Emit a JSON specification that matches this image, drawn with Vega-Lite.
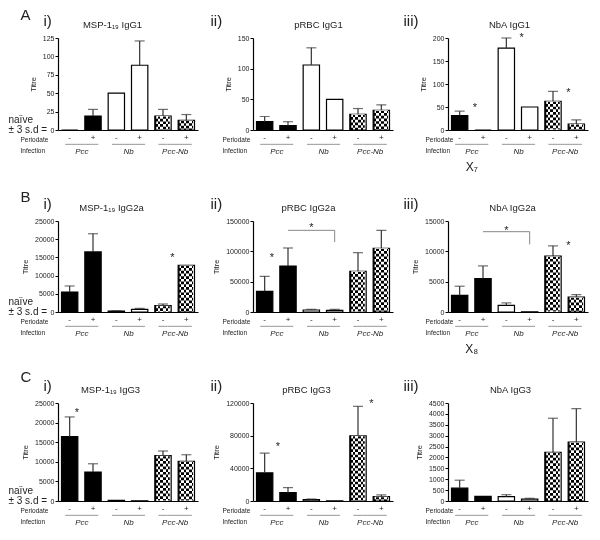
{
"$schema": "https://vega.github.io/schema/vega-lite/v6.json",
"background": "white",
"padding": {"left": 8, "top": 7, "right": 2, "bottom": 2},
"config": {"font": "Liberation Sans", "view": {"stroke": null}, "axis": {"grid": false, "domainColor": "#000", "tickColor": "#000", "labelColor": "#222", "titleColor": "#222", "labelFont": "Liberation Sans", "titleFont": "Liberation Sans"}},
"datasets": {
"bars": [
{"panel":"Ai","group":"Pcc","bar":"Pcc|-","value":0,"err":null},
{"panel":"Ai","group":"Pcc","bar":"Pcc|+","value":19,"err":28},
{"panel":"Ai","group":"Nb","bar":"Nb|-","value":50,"err":null},
{"panel":"Ai","group":"Nb","bar":"Nb|+","value":88,"err":121},
{"panel":"Ai","group":"Pcc-Nb","bar":"Pcc-Nb|-","value":19,"err":28},
{"panel":"Ai","group":"Pcc-Nb","bar":"Pcc-Nb|+","value":13,"err":21},
{"panel":"Aii","group":"Pcc","bar":"Pcc|-","value":13.5,"err":22},
{"panel":"Aii","group":"Pcc","bar":"Pcc|+","value":7,"err":13.5},
{"panel":"Aii","group":"Nb","bar":"Nb|-","value":106,"err":134},
{"panel":"Aii","group":"Nb","bar":"Nb|+","value":50,"err":null},
{"panel":"Aii","group":"Pcc-Nb","bar":"Pcc-Nb|-","value":25.5,"err":35},
{"panel":"Aii","group":"Pcc-Nb","bar":"Pcc-Nb|+","value":32,"err":41},
{"panel":"Aiii","group":"Pcc","bar":"Pcc|-","value":31.5,"err":41},
{"panel":"Aiii","group":"Pcc","bar":"Pcc|+","value":0,"err":null},
{"panel":"Aiii","group":"Nb","bar":"Nb|-","value":178,"err":200},
{"panel":"Aiii","group":"Nb","bar":"Nb|+","value":50,"err":null},
{"panel":"Aiii","group":"Pcc-Nb","bar":"Pcc-Nb|-","value":62.5,"err":84},
{"panel":"Aiii","group":"Pcc-Nb","bar":"Pcc-Nb|+","value":13,"err":22},
{"panel":"Bi","group":"Pcc","bar":"Pcc|-","value":5500,"err":7150},
{"panel":"Bi","group":"Pcc","bar":"Pcc|+","value":16500,"err":21500},
{"panel":"Bi","group":"Nb","bar":"Nb|-","value":270,"err":350},
{"panel":"Bi","group":"Nb","bar":"Nb|+","value":730,"err":1000},
{"panel":"Bi","group":"Pcc-Nb","bar":"Pcc-Nb|-","value":1750,"err":2200},
{"panel":"Bi","group":"Pcc-Nb","bar":"Pcc-Nb|+","value":12800,"err":null},
{"panel":"Bii","group":"Pcc","bar":"Pcc|-","value":34000,"err":58800},
{"panel":"Bii","group":"Pcc","bar":"Pcc|+","value":75800,"err":105500},
{"panel":"Bii","group":"Nb","bar":"Nb|-","value":3300,"err":4400},
{"panel":"Bii","group":"Nb","bar":"Nb|+","value":2700,"err":4400},
{"panel":"Bii","group":"Pcc-Nb","bar":"Pcc-Nb|-","value":67000,"err":97800},
{"panel":"Bii","group":"Pcc-Nb","bar":"Pcc-Nb|+","value":105000,"err":134600},
{"panel":"Biii","group":"Pcc","bar":"Pcc|-","value":2750,"err":4250},
{"panel":"Biii","group":"Pcc","bar":"Pcc|+","value":5500,"err":7600},
{"panel":"Biii","group":"Nb","bar":"Nb|-","value":1100,"err":1500},
{"panel":"Biii","group":"Nb","bar":"Nb|+","value":30,"err":null},
{"panel":"Biii","group":"Pcc-Nb","bar":"Pcc-Nb|-","value":9200,"err":10900},
{"panel":"Biii","group":"Pcc-Nb","bar":"Pcc-Nb|+","value":2450,"err":2870},
{"panel":"Ci","group":"Pcc","bar":"Pcc|-","value":16400,"err":21450},
{"panel":"Ci","group":"Pcc","bar":"Pcc|+","value":7400,"err":9500},
{"panel":"Ci","group":"Nb","bar":"Nb|-","value":170,"err":null},
{"panel":"Ci","group":"Nb","bar":"Nb|+","value":50,"err":null},
{"panel":"Ci","group":"Pcc-Nb","bar":"Pcc-Nb|-","value":11550,"err":12750},
{"panel":"Ci","group":"Pcc-Nb","bar":"Pcc-Nb|+","value":10100,"err":11800},
{"panel":"Cii","group":"Pcc","bar":"Pcc|-","value":34400,"err":58600},
{"panel":"Cii","group":"Pcc","bar":"Pcc|+","value":10250,"err":16400},
{"panel":"Cii","group":"Nb","bar":"Nb|-","value":1650,"err":2450},
{"panel":"Cii","group":"Nb","bar":"Nb|+","value":200,"err":null},
{"panel":"Cii","group":"Pcc-Nb","bar":"Pcc-Nb|-","value":79900,"err":115900},
{"panel":"Cii","group":"Pcc-Nb","bar":"Pcc-Nb|+","value":5300,"err":7400},
{"panel":"Ciii","group":"Pcc","bar":"Pcc|-","value":590,"err":955},
{"panel":"Ciii","group":"Pcc","bar":"Pcc|+","value":215,"err":null},
{"panel":"Ciii","group":"Nb","bar":"Nb|-","value":200,"err":290},
{"panel":"Ciii","group":"Nb","bar":"Nb|+","value":90,"err":125},
{"panel":"Ciii","group":"Pcc-Nb","bar":"Pcc-Nb|-","value":2230,"err":3800},
{"panel":"Ciii","group":"Pcc-Nb","bar":"Pcc-Nb|+","value":2700,"err":4240}
],
"stars": [
{"panel":"Aiii","bar":"Pcc|+","y":54},
{"panel":"Aiii","bar":"Nb|+","y":206},
{"panel":"Aiii","bar":"Pcc-Nb|+","y":88},
{"panel":"Bi","bar":"Pcc-Nb|+","y":15750},
{"panel":"Bii","bar":"Pcc|+","y":94500},
{"panel":"Biii","bar":"Pcc-Nb|+","y":11300},
{"panel":"Ci","bar":"Pcc|+","y":23100},
{"panel":"Cii","bar":"Pcc|+","y":69600},
{"panel":"Cii","bar":"Pcc-Nb|+","y":122000}
],
"bstars": [
{"panel":"Bii","bar":"Nb|-","y":142800},
{"panel":"Biii","bar":"Nb|-","y":13900}
],
"brackets": [
{"panel":"Bii","bar":"Pcc|+","y":134600,"k":1},
{"panel":"Bii","bar":"Nb|+","y":134600,"k":2},
{"panel":"Bii","bar":"Nb|+","y":115400,"k":3},
{"panel":"Biii","bar":"Pcc|+","y":13240,"k":1},
{"panel":"Biii","bar":"Nb|+","y":13240,"k":2},
{"panel":"Biii","bar":"Nb|+","y":11140,"k":3}
],
"groups": [{"group":"Pcc"},{"group":"Nb"},{"group":"Pcc-Nb"}]
},
"columns": 3,
"spacing": {"row": 91, "column": 55},
"bounds": "flush",
"align": "each",
"concat": [
{"width":140,"height":92,"resolve":{"scale":{"x":"independent","y":"independent"},"axis":{"x":"independent","y":"independent"}},
"layer":[
{"data":{"name":"bars"},"transform":[{"filter":"datum.panel==='Ai' && datum.group!=='Pcc-Nb'"}],"mark":{"type":"bar","stroke":"#000","strokeWidth":1.2},
"encoding":{"x":{"field":"bar","type":"nominal","scale":{"type":"band","domain":["Pcc|-","Pcc|+","Nb|-","Nb|+","Pcc-Nb|-","Pcc-Nb|+"],"paddingInner":0.3,"paddingOuter":0.15},"axis":{"orient":"bottom","domainWidth":1.2,"ticks":false,"labelAngle":0,"labelFontSize":8,"labelPadding":3,"labelExpr":"split(datum.value,'|')[1]","title":"Periodate","titleFontSize":6.5,"titleFontWeight":"normal","titleAlign":"left","titleBaseline":"middle","titleX":-38,"titleY":9}},
"y":{"field":"value","type":"quantitative","scale":{"domain":[0,125],"nice":false},"axis":{"orient":"left","values":[0,25,50,75,100,125],"format":"d","labelFontSize":7,"tickSize":3,"domainWidth":1.2,"labelPadding":1,"title":"Titre","titleFontSize":7.5,"titleFontWeight":"normal","titlePadding":5}},
"fill":{"condition":{"test":"datum.group==='Pcc'","value":"#000"},"value":"#fff"}}},
{"data":{"name":"bars"},"transform":[{"filter":"datum.panel==='Ai' && datum.group==='Pcc-Nb'"}],"mark":{"type":"bar","stroke":"#000","strokeWidth":1.2,"fill":{"gradient":"linear","x1":0,"y1":0,"x2":1,"y2":0,"stops":[{"offset":0,"color":"#000"},{"offset":0.1667,"color":"#000"},{"offset":0.1667,"color":"#fff"},{"offset":0.3333,"color":"#fff"},{"offset":0.3333,"color":"#000"},{"offset":0.5,"color":"#000"},{"offset":0.5,"color":"#fff"},{"offset":0.6667,"color":"#fff"},{"offset":0.6667,"color":"#000"},{"offset":0.8333,"color":"#000"},{"offset":0.8333,"color":"#fff"},{"offset":1,"color":"#fff"}]}},
"encoding":{"x":{"field":"bar","type":"nominal","scale":{"type":"band","domain":["Pcc|-","Pcc|+","Nb|-","Nb|+","Pcc-Nb|-","Pcc-Nb|+"],"paddingInner":0.3,"paddingOuter":0.15},"axis":null},"y":{"field":"value","type":"quantitative","scale":{"domain":[0,125],"nice":false},"axis":null}}},
{"data":{"name":"bars"},"transform":[{"filter":"datum.panel==='Ai' && datum.group==='Pcc-Nb'"}],"mark":{"type":"rule","color":"#fff","strokeWidth":13.5,"strokeDash":[2.7,2.7],"blend":"difference"},
"encoding":{"x":{"field":"bar","type":"nominal","scale":{"type":"band","domain":["Pcc|-","Pcc|+","Nb|-","Nb|+","Pcc-Nb|-","Pcc-Nb|+"],"paddingInner":0.3,"paddingOuter":0.15},"axis":null},"y":{"field":"value","type":"quantitative","scale":{"domain":[0,125],"nice":false},"axis":null},"y2":{"datum":0}}},
{"data":{"name":"bars"},"transform":[{"filter":"datum.panel==='Ai' && datum.err!=null"}],"mark":{"type":"rule","color":"#333","strokeWidth":1.2},
"encoding":{"x":{"field":"bar","type":"nominal","scale":{"type":"band","domain":["Pcc|-","Pcc|+","Nb|-","Nb|+","Pcc-Nb|-","Pcc-Nb|+"],"paddingInner":0.3,"paddingOuter":0.15},"axis":null},"y":{"field":"value","type":"quantitative","scale":{"domain":[0,125],"nice":false},"axis":null},"y2":{"field":"err"}}},
{"data":{"name":"bars"},"transform":[{"filter":"datum.panel==='Ai' && datum.err!=null"}],"mark":{"type":"tick","color":"#333","thickness":1.2,"size":10},
"encoding":{"x":{"field":"bar","type":"nominal","scale":{"type":"band","domain":["Pcc|-","Pcc|+","Nb|-","Nb|+","Pcc-Nb|-","Pcc-Nb|+"],"paddingInner":0.3,"paddingOuter":0.15},"axis":null},"y":{"field":"err","type":"quantitative","scale":{"domain":[0,125],"nice":false},"axis":null}}},
{"data":{"name":"groups"},"mark":{"type":"point","opacity":0},"encoding":{"x":{"field":"group","type":"nominal","scale":{"type":"point","padding":0.5,"domain":["Pcc","Nb","Pcc-Nb"]},"axis":{"orient":"bottom","offset":11.5,"domain":false,"ticks":false,"labelPadding":0,"labelAngle":0,"labelExpr":"'━━━━━━━━━━━'","labelFont":"DejaVu Sans","labelFontSize":5,"labelColor":"#888","title":"i)","titleFontSize":15,"titleFontWeight":"normal","titleAlign":"left","titleBaseline":"alphabetic","titleAngle":0,"titleX":-15,"titleY":-116.5}},"y":{"datum":0,"type":"quantitative","scale":{"domain":[0,1]},"axis":null}}},
{"data":{"name":"groups"},"mark":{"type":"point","opacity":0},"encoding":{"x":{"field":"group","type":"nominal","scale":{"type":"point","padding":0.5,"domain":["Pcc","Nb","Pcc-Nb"]},"axis":{"orient":"bottom","offset":17,"domain":false,"ticks":false,"labelPadding":0,"labelAngle":0,"labelFontStyle":"italic","labelFontSize":8,"labelColor":"#222","title":"Infection","titleFontSize":6.5,"titleFontWeight":"normal","titleAlign":"left","titleBaseline":"middle","titleX":-38,"titleY":3.5}},"y":{"datum":0,"type":"quantitative","scale":{"domain":[0,1]},"axis":null}}},
{"data":{"name":"groups"},"mark":{"type":"point","opacity":0},"encoding":{"x":{"field":"group","type":"nominal","scale":{"type":"point","padding":0.5,"domain":["Pcc","Nb","Pcc-Nb"]},"axis":{"orient":"top","domain":false,"ticks":false,"labels":false,"title":"MSP-1₁₉ IgG1","titleFontSize":9.5,"titleFontWeight":"normal","titleAlign":"center","titleBaseline":"alphabetic","titleX":54,"titleY":-11}},"y":{"datum":0,"type":"quantitative","scale":{"domain":[0,1]},"axis":null}}},
{"data":{"name":"groups"},"mark":{"type":"point","opacity":0},"encoding":{"x":{"field":"group","type":"nominal","scale":{"type":"point","padding":0.5,"domain":["Pcc","Nb","Pcc-Nb"]},"axis":null},"y":{"datum":0,"type":"quantitative","scale":{"domain":[0,125],"nice":false},"axis":{"orient":"left","values":[0],"domain":false,"ticks":false,"tickSize":0,"labelAlign":"left","labelPadding":50,"labelFontSize":10,"labelBaseline":"middle","labelOffset":-11,"labelLineHeight":10.5,"labelExpr":"['naïve','± 3 s.d =']","labelColor":"#222","title":"A","titleFontSize":15,"titleFontWeight":"normal","titleAngle":0,"titleAlign":"left","titleBaseline":"alphabetic","titleX":-38,"titleY":-19}}}}
]},
{"width":140,"height":92,"resolve":{"scale":{"x":"independent","y":"independent"},"axis":{"x":"independent","y":"independent"}},
"layer":[
{"data":{"name":"bars"},"transform":[{"filter":"datum.panel==='Aii' && datum.group!=='Pcc-Nb'"}],"mark":{"type":"bar","stroke":"#000","strokeWidth":1.2},
"encoding":{"x":{"field":"bar","type":"nominal","scale":{"type":"band","domain":["Pcc|-","Pcc|+","Nb|-","Nb|+","Pcc-Nb|-","Pcc-Nb|+"],"paddingInner":0.3,"paddingOuter":0.15},"axis":{"orient":"bottom","domainWidth":1.2,"ticks":false,"labelAngle":0,"labelFontSize":8,"labelPadding":3,"labelExpr":"split(datum.value,'|')[1]","title":"Periodate","titleFontSize":6.5,"titleFontWeight":"normal","titleAlign":"left","titleBaseline":"middle","titleX":-31,"titleY":9}},
"y":{"field":"value","type":"quantitative","scale":{"domain":[0,150],"nice":false},"axis":{"orient":"left","values":[0,50,100,150],"format":"d","labelFontSize":7,"tickSize":3,"domainWidth":1.2,"labelPadding":1,"title":"Titre","titleFontSize":7.5,"titleFontWeight":"normal","titlePadding":5}},
"fill":{"condition":{"test":"datum.group==='Pcc'","value":"#000"},"value":"#fff"}}},
{"data":{"name":"bars"},"transform":[{"filter":"datum.panel==='Aii' && datum.group==='Pcc-Nb'"}],"mark":{"type":"bar","stroke":"#000","strokeWidth":1.2,"fill":{"gradient":"linear","x1":0,"y1":0,"x2":1,"y2":0,"stops":[{"offset":0,"color":"#000"},{"offset":0.1667,"color":"#000"},{"offset":0.1667,"color":"#fff"},{"offset":0.3333,"color":"#fff"},{"offset":0.3333,"color":"#000"},{"offset":0.5,"color":"#000"},{"offset":0.5,"color":"#fff"},{"offset":0.6667,"color":"#fff"},{"offset":0.6667,"color":"#000"},{"offset":0.8333,"color":"#000"},{"offset":0.8333,"color":"#fff"},{"offset":1,"color":"#fff"}]}},
"encoding":{"x":{"field":"bar","type":"nominal","scale":{"type":"band","domain":["Pcc|-","Pcc|+","Nb|-","Nb|+","Pcc-Nb|-","Pcc-Nb|+"],"paddingInner":0.3,"paddingOuter":0.15},"axis":null},"y":{"field":"value","type":"quantitative","scale":{"domain":[0,150],"nice":false},"axis":null}}},
{"data":{"name":"bars"},"transform":[{"filter":"datum.panel==='Aii' && datum.group==='Pcc-Nb'"}],"mark":{"type":"rule","color":"#fff","strokeWidth":13.5,"strokeDash":[2.7,2.7],"blend":"difference"},
"encoding":{"x":{"field":"bar","type":"nominal","scale":{"type":"band","domain":["Pcc|-","Pcc|+","Nb|-","Nb|+","Pcc-Nb|-","Pcc-Nb|+"],"paddingInner":0.3,"paddingOuter":0.15},"axis":null},"y":{"field":"value","type":"quantitative","scale":{"domain":[0,150],"nice":false},"axis":null},"y2":{"datum":0}}},
{"data":{"name":"bars"},"transform":[{"filter":"datum.panel==='Aii' && datum.err!=null"}],"mark":{"type":"rule","color":"#333","strokeWidth":1.2},
"encoding":{"x":{"field":"bar","type":"nominal","scale":{"type":"band","domain":["Pcc|-","Pcc|+","Nb|-","Nb|+","Pcc-Nb|-","Pcc-Nb|+"],"paddingInner":0.3,"paddingOuter":0.15},"axis":null},"y":{"field":"value","type":"quantitative","scale":{"domain":[0,150],"nice":false},"axis":null},"y2":{"field":"err"}}},
{"data":{"name":"bars"},"transform":[{"filter":"datum.panel==='Aii' && datum.err!=null"}],"mark":{"type":"tick","color":"#333","thickness":1.2,"size":10},
"encoding":{"x":{"field":"bar","type":"nominal","scale":{"type":"band","domain":["Pcc|-","Pcc|+","Nb|-","Nb|+","Pcc-Nb|-","Pcc-Nb|+"],"paddingInner":0.3,"paddingOuter":0.15},"axis":null},"y":{"field":"err","type":"quantitative","scale":{"domain":[0,150],"nice":false},"axis":null}}},
{"data":{"name":"groups"},"mark":{"type":"point","opacity":0},"encoding":{"x":{"field":"group","type":"nominal","scale":{"type":"point","padding":0.5,"domain":["Pcc","Nb","Pcc-Nb"]},"axis":{"orient":"bottom","offset":11.5,"domain":false,"ticks":false,"labelPadding":0,"labelAngle":0,"labelExpr":"'━━━━━━━━━━━'","labelFont":"DejaVu Sans","labelFontSize":5,"labelColor":"#888","title":"ii)","titleFontSize":15,"titleFontWeight":"normal","titleAlign":"left","titleBaseline":"alphabetic","titleAngle":0,"titleX":-43,"titleY":-116.5}},"y":{"datum":0,"type":"quantitative","scale":{"domain":[0,1]},"axis":null}}},
{"data":{"name":"groups"},"mark":{"type":"point","opacity":0},"encoding":{"x":{"field":"group","type":"nominal","scale":{"type":"point","padding":0.5,"domain":["Pcc","Nb","Pcc-Nb"]},"axis":{"orient":"bottom","offset":17,"domain":false,"ticks":false,"labelPadding":0,"labelAngle":0,"labelFontStyle":"italic","labelFontSize":8,"labelColor":"#222","title":"Infection","titleFontSize":6.5,"titleFontWeight":"normal","titleAlign":"left","titleBaseline":"middle","titleX":-31,"titleY":3.5}},"y":{"datum":0,"type":"quantitative","scale":{"domain":[0,1]},"axis":null}}},
{"data":{"name":"groups"},"mark":{"type":"point","opacity":0},"encoding":{"x":{"field":"group","type":"nominal","scale":{"type":"point","padding":0.5,"domain":["Pcc","Nb","Pcc-Nb"]},"axis":{"orient":"top","domain":false,"ticks":false,"labels":false,"title":"pRBC IgG1","titleFontSize":9.5,"titleFontWeight":"normal","titleAlign":"center","titleBaseline":"alphabetic","titleX":65,"titleY":-11}},"y":{"datum":0,"type":"quantitative","scale":{"domain":[0,1]},"axis":null}}}
]},
{"width":140,"height":92,"resolve":{"scale":{"x":"independent","y":"independent"},"axis":{"x":"independent","y":"independent"}},
"layer":[
{"data":{"name":"bars"},"transform":[{"filter":"datum.panel==='Aiii' && datum.group!=='Pcc-Nb'"}],"mark":{"type":"bar","stroke":"#000","strokeWidth":1.2},
"encoding":{"x":{"field":"bar","type":"nominal","scale":{"type":"band","domain":["Pcc|-","Pcc|+","Nb|-","Nb|+","Pcc-Nb|-","Pcc-Nb|+"],"paddingInner":0.3,"paddingOuter":0.15},"axis":{"orient":"bottom","domainWidth":1.2,"ticks":false,"labelAngle":0,"labelFontSize":8,"labelPadding":3,"labelExpr":"split(datum.value,'|')[1]","title":"Periodate","titleFontSize":6.5,"titleFontWeight":"normal","titleAlign":"left","titleBaseline":"middle","titleX":-23,"titleY":9}},
"y":{"field":"value","type":"quantitative","scale":{"domain":[0,200],"nice":false},"axis":{"orient":"left","values":[0,50,100,150,200],"format":"d","labelFontSize":7,"tickSize":3,"domainWidth":1.2,"labelPadding":1,"title":"Titre","titleFontSize":7.5,"titleFontWeight":"normal","titlePadding":5}},
"fill":{"condition":{"test":"datum.group==='Pcc'","value":"#000"},"value":"#fff"}}},
{"data":{"name":"bars"},"transform":[{"filter":"datum.panel==='Aiii' && datum.group==='Pcc-Nb'"}],"mark":{"type":"bar","stroke":"#000","strokeWidth":1.2,"fill":{"gradient":"linear","x1":0,"y1":0,"x2":1,"y2":0,"stops":[{"offset":0,"color":"#000"},{"offset":0.1667,"color":"#000"},{"offset":0.1667,"color":"#fff"},{"offset":0.3333,"color":"#fff"},{"offset":0.3333,"color":"#000"},{"offset":0.5,"color":"#000"},{"offset":0.5,"color":"#fff"},{"offset":0.6667,"color":"#fff"},{"offset":0.6667,"color":"#000"},{"offset":0.8333,"color":"#000"},{"offset":0.8333,"color":"#fff"},{"offset":1,"color":"#fff"}]}},
"encoding":{"x":{"field":"bar","type":"nominal","scale":{"type":"band","domain":["Pcc|-","Pcc|+","Nb|-","Nb|+","Pcc-Nb|-","Pcc-Nb|+"],"paddingInner":0.3,"paddingOuter":0.15},"axis":null},"y":{"field":"value","type":"quantitative","scale":{"domain":[0,200],"nice":false},"axis":null}}},
{"data":{"name":"bars"},"transform":[{"filter":"datum.panel==='Aiii' && datum.group==='Pcc-Nb'"}],"mark":{"type":"rule","color":"#fff","strokeWidth":13.5,"strokeDash":[2.7,2.7],"blend":"difference"},
"encoding":{"x":{"field":"bar","type":"nominal","scale":{"type":"band","domain":["Pcc|-","Pcc|+","Nb|-","Nb|+","Pcc-Nb|-","Pcc-Nb|+"],"paddingInner":0.3,"paddingOuter":0.15},"axis":null},"y":{"field":"value","type":"quantitative","scale":{"domain":[0,200],"nice":false},"axis":null},"y2":{"datum":0}}},
{"data":{"name":"bars"},"transform":[{"filter":"datum.panel==='Aiii' && datum.err!=null"}],"mark":{"type":"rule","color":"#333","strokeWidth":1.2},
"encoding":{"x":{"field":"bar","type":"nominal","scale":{"type":"band","domain":["Pcc|-","Pcc|+","Nb|-","Nb|+","Pcc-Nb|-","Pcc-Nb|+"],"paddingInner":0.3,"paddingOuter":0.15},"axis":null},"y":{"field":"value","type":"quantitative","scale":{"domain":[0,200],"nice":false},"axis":null},"y2":{"field":"err"}}},
{"data":{"name":"bars"},"transform":[{"filter":"datum.panel==='Aiii' && datum.err!=null"}],"mark":{"type":"tick","color":"#333","thickness":1.2,"size":10},
"encoding":{"x":{"field":"bar","type":"nominal","scale":{"type":"band","domain":["Pcc|-","Pcc|+","Nb|-","Nb|+","Pcc-Nb|-","Pcc-Nb|+"],"paddingInner":0.3,"paddingOuter":0.15},"axis":null},"y":{"field":"err","type":"quantitative","scale":{"domain":[0,200],"nice":false},"axis":null}}},
{"data":{"name":"stars"},"transform":[{"filter":"datum.panel==='Aiii'"}],"mark":{"type":"text","text":"*","fontSize":11,"dx":-8,"dy":6,"baseline":"alphabetic","color":"#222"},
"encoding":{"x":{"field":"bar","type":"nominal","scale":{"type":"band","domain":["Pcc|-","Pcc|+","Nb|-","Nb|+","Pcc-Nb|-","Pcc-Nb|+"],"paddingInner":0.3,"paddingOuter":0.15},"axis":null},"y":{"field":"y","type":"quantitative","scale":{"domain":[0,200],"nice":false},"axis":null}}},
{"data":{"name":"groups"},"mark":{"type":"point","opacity":0},"encoding":{"x":{"field":"group","type":"nominal","scale":{"type":"point","padding":0.5,"domain":["Pcc","Nb","Pcc-Nb"]},"axis":{"orient":"bottom","offset":11.5,"domain":false,"ticks":false,"labelPadding":0,"labelAngle":0,"labelExpr":"'━━━━━━━━━━━'","labelFont":"DejaVu Sans","labelFontSize":5,"labelColor":"#888","title":"iii)","titleFontSize":15,"titleFontWeight":"normal","titleAlign":"left","titleBaseline":"alphabetic","titleAngle":0,"titleX":-45,"titleY":-116.5}},"y":{"datum":0,"type":"quantitative","scale":{"domain":[0,1]},"axis":null}}},
{"data":{"name":"groups"},"mark":{"type":"point","opacity":0},"encoding":{"x":{"field":"group","type":"nominal","scale":{"type":"point","padding":0.5,"domain":["Pcc","Nb","Pcc-Nb"]},"axis":{"orient":"bottom","offset":17,"domain":false,"ticks":false,"labelPadding":0,"labelAngle":0,"labelFontStyle":"italic","labelFontSize":8,"labelColor":"#222","title":"Infection","titleFontSize":6.5,"titleFontWeight":"normal","titleAlign":"left","titleBaseline":"middle","titleX":-23,"titleY":3.5}},"y":{"datum":0,"type":"quantitative","scale":{"domain":[0,1]},"axis":null}}},
{"data":{"name":"groups"},"mark":{"type":"point","opacity":0},"encoding":{"x":{"field":"group","type":"nominal","scale":{"type":"point","padding":0.5,"domain":["Pcc","Nb","Pcc-Nb"]},"axis":{"orient":"bottom","offset":31,"values":["Pcc"],"domain":false,"ticks":false,"labelPadding":0,"labelAngle":0,"labelExpr":"'X₇'","labelFontSize":12,"labelColor":"#222","title":null}},"y":{"datum":0,"type":"quantitative","scale":{"domain":[0,1]},"axis":null}}},
{"data":{"name":"groups"},"mark":{"type":"point","opacity":0},"encoding":{"x":{"field":"group","type":"nominal","scale":{"type":"point","padding":0.5,"domain":["Pcc","Nb","Pcc-Nb"]},"axis":{"orient":"top","domain":false,"ticks":false,"labels":false,"title":"NbA IgG1","titleFontSize":9.5,"titleFontWeight":"normal","titleAlign":"center","titleBaseline":"alphabetic","titleX":61,"titleY":-11}},"y":{"datum":0,"type":"quantitative","scale":{"domain":[0,1]},"axis":null}}}
]},
{"width":140,"height":91,"resolve":{"scale":{"x":"independent","y":"independent"},"axis":{"x":"independent","y":"independent"}},
"layer":[
{"data":{"name":"bars"},"transform":[{"filter":"datum.panel==='Bi' && datum.group!=='Pcc-Nb'"}],"mark":{"type":"bar","stroke":"#000","strokeWidth":1.2},
"encoding":{"x":{"field":"bar","type":"nominal","scale":{"type":"band","domain":["Pcc|-","Pcc|+","Nb|-","Nb|+","Pcc-Nb|-","Pcc-Nb|+"],"paddingInner":0.3,"paddingOuter":0.15},"axis":{"orient":"bottom","domainWidth":1.2,"ticks":false,"labelAngle":0,"labelFontSize":8,"labelPadding":3,"labelExpr":"split(datum.value,'|')[1]","title":"Periodate","titleFontSize":6.5,"titleFontWeight":"normal","titleAlign":"left","titleBaseline":"middle","titleX":-38,"titleY":9}},
"y":{"field":"value","type":"quantitative","scale":{"domain":[0,25000],"nice":false},"axis":{"orient":"left","values":[0,5000,10000,15000,20000,25000],"format":"d","labelFontSize":7,"tickSize":3,"domainWidth":1.2,"labelPadding":1,"title":"Titre","titleFontSize":7.5,"titleFontWeight":"normal","titlePadding":5}},
"fill":{"condition":{"test":"datum.group==='Pcc'","value":"#000"},"value":"#fff"}}},
{"data":{"name":"bars"},"transform":[{"filter":"datum.panel==='Bi' && datum.group==='Pcc-Nb'"}],"mark":{"type":"bar","stroke":"#000","strokeWidth":1.2,"fill":{"gradient":"linear","x1":0,"y1":0,"x2":1,"y2":0,"stops":[{"offset":0,"color":"#000"},{"offset":0.1667,"color":"#000"},{"offset":0.1667,"color":"#fff"},{"offset":0.3333,"color":"#fff"},{"offset":0.3333,"color":"#000"},{"offset":0.5,"color":"#000"},{"offset":0.5,"color":"#fff"},{"offset":0.6667,"color":"#fff"},{"offset":0.6667,"color":"#000"},{"offset":0.8333,"color":"#000"},{"offset":0.8333,"color":"#fff"},{"offset":1,"color":"#fff"}]}},
"encoding":{"x":{"field":"bar","type":"nominal","scale":{"type":"band","domain":["Pcc|-","Pcc|+","Nb|-","Nb|+","Pcc-Nb|-","Pcc-Nb|+"],"paddingInner":0.3,"paddingOuter":0.15},"axis":null},"y":{"field":"value","type":"quantitative","scale":{"domain":[0,25000],"nice":false},"axis":null}}},
{"data":{"name":"bars"},"transform":[{"filter":"datum.panel==='Bi' && datum.group==='Pcc-Nb'"}],"mark":{"type":"rule","color":"#fff","strokeWidth":13.5,"strokeDash":[2.7,2.7],"blend":"difference"},
"encoding":{"x":{"field":"bar","type":"nominal","scale":{"type":"band","domain":["Pcc|-","Pcc|+","Nb|-","Nb|+","Pcc-Nb|-","Pcc-Nb|+"],"paddingInner":0.3,"paddingOuter":0.15},"axis":null},"y":{"field":"value","type":"quantitative","scale":{"domain":[0,25000],"nice":false},"axis":null},"y2":{"datum":0}}},
{"data":{"name":"bars"},"transform":[{"filter":"datum.panel==='Bi' && datum.err!=null"}],"mark":{"type":"rule","color":"#333","strokeWidth":1.2},
"encoding":{"x":{"field":"bar","type":"nominal","scale":{"type":"band","domain":["Pcc|-","Pcc|+","Nb|-","Nb|+","Pcc-Nb|-","Pcc-Nb|+"],"paddingInner":0.3,"paddingOuter":0.15},"axis":null},"y":{"field":"value","type":"quantitative","scale":{"domain":[0,25000],"nice":false},"axis":null},"y2":{"field":"err"}}},
{"data":{"name":"bars"},"transform":[{"filter":"datum.panel==='Bi' && datum.err!=null"}],"mark":{"type":"tick","color":"#333","thickness":1.2,"size":10},
"encoding":{"x":{"field":"bar","type":"nominal","scale":{"type":"band","domain":["Pcc|-","Pcc|+","Nb|-","Nb|+","Pcc-Nb|-","Pcc-Nb|+"],"paddingInner":0.3,"paddingOuter":0.15},"axis":null},"y":{"field":"err","type":"quantitative","scale":{"domain":[0,25000],"nice":false},"axis":null}}},
{"data":{"name":"stars"},"transform":[{"filter":"datum.panel==='Bi'"}],"mark":{"type":"text","text":"*","fontSize":11,"dx":-14,"dy":6,"baseline":"alphabetic","color":"#222"},
"encoding":{"x":{"field":"bar","type":"nominal","scale":{"type":"band","domain":["Pcc|-","Pcc|+","Nb|-","Nb|+","Pcc-Nb|-","Pcc-Nb|+"],"paddingInner":0.3,"paddingOuter":0.15},"axis":null},"y":{"field":"y","type":"quantitative","scale":{"domain":[0,25000],"nice":false},"axis":null}}},
{"data":{"name":"groups"},"mark":{"type":"point","opacity":0},"encoding":{"x":{"field":"group","type":"nominal","scale":{"type":"point","padding":0.5,"domain":["Pcc","Nb","Pcc-Nb"]},"axis":{"orient":"bottom","offset":11.5,"domain":false,"ticks":false,"labelPadding":0,"labelAngle":0,"labelExpr":"'━━━━━━━━━━━'","labelFont":"DejaVu Sans","labelFontSize":5,"labelColor":"#888","title":"i)","titleFontSize":15,"titleFontWeight":"normal","titleAlign":"left","titleBaseline":"alphabetic","titleAngle":0,"titleX":-15,"titleY":-115.5}},"y":{"datum":0,"type":"quantitative","scale":{"domain":[0,1]},"axis":null}}},
{"data":{"name":"groups"},"mark":{"type":"point","opacity":0},"encoding":{"x":{"field":"group","type":"nominal","scale":{"type":"point","padding":0.5,"domain":["Pcc","Nb","Pcc-Nb"]},"axis":{"orient":"bottom","offset":17,"domain":false,"ticks":false,"labelPadding":0,"labelAngle":0,"labelFontStyle":"italic","labelFontSize":8,"labelColor":"#222","title":"Infection","titleFontSize":6.5,"titleFontWeight":"normal","titleAlign":"left","titleBaseline":"middle","titleX":-38,"titleY":3.5}},"y":{"datum":0,"type":"quantitative","scale":{"domain":[0,1]},"axis":null}}},
{"data":{"name":"groups"},"mark":{"type":"point","opacity":0},"encoding":{"x":{"field":"group","type":"nominal","scale":{"type":"point","padding":0.5,"domain":["Pcc","Nb","Pcc-Nb"]},"axis":{"orient":"top","domain":false,"ticks":false,"labels":false,"title":"MSP-1₁₉ IgG2a","titleFontSize":9.5,"titleFontWeight":"normal","titleAlign":"center","titleBaseline":"alphabetic","titleX":53,"titleY":-11}},"y":{"datum":0,"type":"quantitative","scale":{"domain":[0,1]},"axis":null}}},
{"data":{"name":"groups"},"mark":{"type":"point","opacity":0},"encoding":{"x":{"field":"group","type":"nominal","scale":{"type":"point","padding":0.5,"domain":["Pcc","Nb","Pcc-Nb"]},"axis":null},"y":{"datum":0,"type":"quantitative","scale":{"domain":[0,25000],"nice":false},"axis":{"orient":"left","values":[0],"domain":false,"ticks":false,"tickSize":0,"labelAlign":"left","labelPadding":50,"labelFontSize":10,"labelBaseline":"middle","labelOffset":-11,"labelLineHeight":10.5,"labelExpr":"['naïve','± 3 s.d =']","labelColor":"#222","title":"B","titleFontSize":15,"titleFontWeight":"normal","titleAngle":0,"titleAlign":"left","titleBaseline":"alphabetic","titleX":-38,"titleY":-20}}}}
]},
{"width":140,"height":91,"resolve":{"scale":{"x":"independent","y":"independent"},"axis":{"x":"independent","y":"independent"}},
"layer":[
{"data":{"name":"bars"},"transform":[{"filter":"datum.panel==='Bii' && datum.group!=='Pcc-Nb'"}],"mark":{"type":"bar","stroke":"#000","strokeWidth":1.2},
"encoding":{"x":{"field":"bar","type":"nominal","scale":{"type":"band","domain":["Pcc|-","Pcc|+","Nb|-","Nb|+","Pcc-Nb|-","Pcc-Nb|+"],"paddingInner":0.3,"paddingOuter":0.15},"axis":{"orient":"bottom","domainWidth":1.2,"ticks":false,"labelAngle":0,"labelFontSize":8,"labelPadding":3,"labelExpr":"split(datum.value,'|')[1]","title":"Periodate","titleFontSize":6.5,"titleFontWeight":"normal","titleAlign":"left","titleBaseline":"middle","titleX":-31,"titleY":9}},
"y":{"field":"value","type":"quantitative","scale":{"domain":[0,150000],"nice":false},"axis":{"orient":"left","values":[0,50000,100000,150000],"format":"d","labelFontSize":7,"tickSize":3,"domainWidth":1.2,"labelPadding":1,"title":"Titre","titleFontSize":7.5,"titleFontWeight":"normal","titlePadding":5}},
"fill":{"condition":{"test":"datum.group==='Pcc'","value":"#000"},"value":"#fff"}}},
{"data":{"name":"bars"},"transform":[{"filter":"datum.panel==='Bii' && datum.group==='Pcc-Nb'"}],"mark":{"type":"bar","stroke":"#000","strokeWidth":1.2,"fill":{"gradient":"linear","x1":0,"y1":0,"x2":1,"y2":0,"stops":[{"offset":0,"color":"#000"},{"offset":0.1667,"color":"#000"},{"offset":0.1667,"color":"#fff"},{"offset":0.3333,"color":"#fff"},{"offset":0.3333,"color":"#000"},{"offset":0.5,"color":"#000"},{"offset":0.5,"color":"#fff"},{"offset":0.6667,"color":"#fff"},{"offset":0.6667,"color":"#000"},{"offset":0.8333,"color":"#000"},{"offset":0.8333,"color":"#fff"},{"offset":1,"color":"#fff"}]}},
"encoding":{"x":{"field":"bar","type":"nominal","scale":{"type":"band","domain":["Pcc|-","Pcc|+","Nb|-","Nb|+","Pcc-Nb|-","Pcc-Nb|+"],"paddingInner":0.3,"paddingOuter":0.15},"axis":null},"y":{"field":"value","type":"quantitative","scale":{"domain":[0,150000],"nice":false},"axis":null}}},
{"data":{"name":"bars"},"transform":[{"filter":"datum.panel==='Bii' && datum.group==='Pcc-Nb'"}],"mark":{"type":"rule","color":"#fff","strokeWidth":13.5,"strokeDash":[2.7,2.7],"blend":"difference"},
"encoding":{"x":{"field":"bar","type":"nominal","scale":{"type":"band","domain":["Pcc|-","Pcc|+","Nb|-","Nb|+","Pcc-Nb|-","Pcc-Nb|+"],"paddingInner":0.3,"paddingOuter":0.15},"axis":null},"y":{"field":"value","type":"quantitative","scale":{"domain":[0,150000],"nice":false},"axis":null},"y2":{"datum":0}}},
{"data":{"name":"bars"},"transform":[{"filter":"datum.panel==='Bii' && datum.err!=null"}],"mark":{"type":"rule","color":"#333","strokeWidth":1.2},
"encoding":{"x":{"field":"bar","type":"nominal","scale":{"type":"band","domain":["Pcc|-","Pcc|+","Nb|-","Nb|+","Pcc-Nb|-","Pcc-Nb|+"],"paddingInner":0.3,"paddingOuter":0.15},"axis":null},"y":{"field":"value","type":"quantitative","scale":{"domain":[0,150000],"nice":false},"axis":null},"y2":{"field":"err"}}},
{"data":{"name":"bars"},"transform":[{"filter":"datum.panel==='Bii' && datum.err!=null"}],"mark":{"type":"tick","color":"#333","thickness":1.2,"size":10},
"encoding":{"x":{"field":"bar","type":"nominal","scale":{"type":"band","domain":["Pcc|-","Pcc|+","Nb|-","Nb|+","Pcc-Nb|-","Pcc-Nb|+"],"paddingInner":0.3,"paddingOuter":0.15},"axis":null},"y":{"field":"err","type":"quantitative","scale":{"domain":[0,150000],"nice":false},"axis":null}}},
{"data":{"name":"stars"},"transform":[{"filter":"datum.panel==='Bii'"}],"mark":{"type":"text","text":"*","fontSize":11,"dx":-16,"dy":6,"baseline":"alphabetic","color":"#222"},
"encoding":{"x":{"field":"bar","type":"nominal","scale":{"type":"band","domain":["Pcc|-","Pcc|+","Nb|-","Nb|+","Pcc-Nb|-","Pcc-Nb|+"],"paddingInner":0.3,"paddingOuter":0.15},"axis":null},"y":{"field":"y","type":"quantitative","scale":{"domain":[0,150000],"nice":false},"axis":null}}},
{"data":{"name":"brackets"},"transform":[{"filter":"datum.panel==='Bii'"}],"mark":{"type":"line","color":"#888","strokeWidth":1},
"encoding":{"x":{"field":"bar","type":"nominal","scale":{"type":"band","domain":["Pcc|-","Pcc|+","Nb|-","Nb|+","Pcc-Nb|-","Pcc-Nb|+"],"paddingInner":0.3,"paddingOuter":0.15},"axis":null},"y":{"field":"y","type":"quantitative","scale":{"domain":[0,150000],"nice":false},"axis":null},"order":{"field":"k","type":"quantitative"}}},
{"data":{"name":"bstars"},"transform":[{"filter":"datum.panel==='Bii'"}],"mark":{"type":"text","text":"*","fontSize":11,"dy":6,"baseline":"alphabetic","color":"#222"},
"encoding":{"x":{"field":"bar","type":"nominal","scale":{"type":"band","domain":["Pcc|-","Pcc|+","Nb|-","Nb|+","Pcc-Nb|-","Pcc-Nb|+"],"paddingInner":0.3,"paddingOuter":0.15},"axis":null},"y":{"field":"y","type":"quantitative","scale":{"domain":[0,150000],"nice":false},"axis":null}}},
{"data":{"name":"groups"},"mark":{"type":"point","opacity":0},"encoding":{"x":{"field":"group","type":"nominal","scale":{"type":"point","padding":0.5,"domain":["Pcc","Nb","Pcc-Nb"]},"axis":{"orient":"bottom","offset":11.5,"domain":false,"ticks":false,"labelPadding":0,"labelAngle":0,"labelExpr":"'━━━━━━━━━━━'","labelFont":"DejaVu Sans","labelFontSize":5,"labelColor":"#888","title":"ii)","titleFontSize":15,"titleFontWeight":"normal","titleAlign":"left","titleBaseline":"alphabetic","titleAngle":0,"titleX":-43,"titleY":-115.5}},"y":{"datum":0,"type":"quantitative","scale":{"domain":[0,1]},"axis":null}}},
{"data":{"name":"groups"},"mark":{"type":"point","opacity":0},"encoding":{"x":{"field":"group","type":"nominal","scale":{"type":"point","padding":0.5,"domain":["Pcc","Nb","Pcc-Nb"]},"axis":{"orient":"bottom","offset":17,"domain":false,"ticks":false,"labelPadding":0,"labelAngle":0,"labelFontStyle":"italic","labelFontSize":8,"labelColor":"#222","title":"Infection","titleFontSize":6.5,"titleFontWeight":"normal","titleAlign":"left","titleBaseline":"middle","titleX":-31,"titleY":3.5}},"y":{"datum":0,"type":"quantitative","scale":{"domain":[0,1]},"axis":null}}},
{"data":{"name":"groups"},"mark":{"type":"point","opacity":0},"encoding":{"x":{"field":"group","type":"nominal","scale":{"type":"point","padding":0.5,"domain":["Pcc","Nb","Pcc-Nb"]},"axis":{"orient":"top","domain":false,"ticks":false,"labels":false,"title":"pRBC IgG2a","titleFontSize":9.5,"titleFontWeight":"normal","titleAlign":"center","titleBaseline":"alphabetic","titleX":55,"titleY":-11}},"y":{"datum":0,"type":"quantitative","scale":{"domain":[0,1]},"axis":null}}}
]},
{"width":140,"height":91,"resolve":{"scale":{"x":"independent","y":"independent"},"axis":{"x":"independent","y":"independent"}},
"layer":[
{"data":{"name":"bars"},"transform":[{"filter":"datum.panel==='Biii' && datum.group!=='Pcc-Nb'"}],"mark":{"type":"bar","stroke":"#000","strokeWidth":1.2},
"encoding":{"x":{"field":"bar","type":"nominal","scale":{"type":"band","domain":["Pcc|-","Pcc|+","Nb|-","Nb|+","Pcc-Nb|-","Pcc-Nb|+"],"paddingInner":0.3,"paddingOuter":0.15},"axis":{"orient":"bottom","domainWidth":1.2,"ticks":false,"labelAngle":0,"labelFontSize":8,"labelPadding":3,"labelExpr":"split(datum.value,'|')[1]","title":"Periodate","titleFontSize":6.5,"titleFontWeight":"normal","titleAlign":"left","titleBaseline":"middle","titleX":-23,"titleY":9}},
"y":{"field":"value","type":"quantitative","scale":{"domain":[0,15000],"nice":false},"axis":{"orient":"left","values":[0,5000,10000,15000],"format":"d","labelFontSize":7,"tickSize":3,"domainWidth":1.2,"labelPadding":1,"title":"Titre","titleFontSize":7.5,"titleFontWeight":"normal","titlePadding":5}},
"fill":{"condition":{"test":"datum.group==='Pcc'","value":"#000"},"value":"#fff"}}},
{"data":{"name":"bars"},"transform":[{"filter":"datum.panel==='Biii' && datum.group==='Pcc-Nb'"}],"mark":{"type":"bar","stroke":"#000","strokeWidth":1.2,"fill":{"gradient":"linear","x1":0,"y1":0,"x2":1,"y2":0,"stops":[{"offset":0,"color":"#000"},{"offset":0.1667,"color":"#000"},{"offset":0.1667,"color":"#fff"},{"offset":0.3333,"color":"#fff"},{"offset":0.3333,"color":"#000"},{"offset":0.5,"color":"#000"},{"offset":0.5,"color":"#fff"},{"offset":0.6667,"color":"#fff"},{"offset":0.6667,"color":"#000"},{"offset":0.8333,"color":"#000"},{"offset":0.8333,"color":"#fff"},{"offset":1,"color":"#fff"}]}},
"encoding":{"x":{"field":"bar","type":"nominal","scale":{"type":"band","domain":["Pcc|-","Pcc|+","Nb|-","Nb|+","Pcc-Nb|-","Pcc-Nb|+"],"paddingInner":0.3,"paddingOuter":0.15},"axis":null},"y":{"field":"value","type":"quantitative","scale":{"domain":[0,15000],"nice":false},"axis":null}}},
{"data":{"name":"bars"},"transform":[{"filter":"datum.panel==='Biii' && datum.group==='Pcc-Nb'"}],"mark":{"type":"rule","color":"#fff","strokeWidth":13.5,"strokeDash":[2.7,2.7],"blend":"difference"},
"encoding":{"x":{"field":"bar","type":"nominal","scale":{"type":"band","domain":["Pcc|-","Pcc|+","Nb|-","Nb|+","Pcc-Nb|-","Pcc-Nb|+"],"paddingInner":0.3,"paddingOuter":0.15},"axis":null},"y":{"field":"value","type":"quantitative","scale":{"domain":[0,15000],"nice":false},"axis":null},"y2":{"datum":0}}},
{"data":{"name":"bars"},"transform":[{"filter":"datum.panel==='Biii' && datum.err!=null"}],"mark":{"type":"rule","color":"#333","strokeWidth":1.2},
"encoding":{"x":{"field":"bar","type":"nominal","scale":{"type":"band","domain":["Pcc|-","Pcc|+","Nb|-","Nb|+","Pcc-Nb|-","Pcc-Nb|+"],"paddingInner":0.3,"paddingOuter":0.15},"axis":null},"y":{"field":"value","type":"quantitative","scale":{"domain":[0,15000],"nice":false},"axis":null},"y2":{"field":"err"}}},
{"data":{"name":"bars"},"transform":[{"filter":"datum.panel==='Biii' && datum.err!=null"}],"mark":{"type":"tick","color":"#333","thickness":1.2,"size":10},
"encoding":{"x":{"field":"bar","type":"nominal","scale":{"type":"band","domain":["Pcc|-","Pcc|+","Nb|-","Nb|+","Pcc-Nb|-","Pcc-Nb|+"],"paddingInner":0.3,"paddingOuter":0.15},"axis":null},"y":{"field":"err","type":"quantitative","scale":{"domain":[0,15000],"nice":false},"axis":null}}},
{"data":{"name":"stars"},"transform":[{"filter":"datum.panel==='Biii'"}],"mark":{"type":"text","text":"*","fontSize":11,"dx":-8,"dy":6,"baseline":"alphabetic","color":"#222"},
"encoding":{"x":{"field":"bar","type":"nominal","scale":{"type":"band","domain":["Pcc|-","Pcc|+","Nb|-","Nb|+","Pcc-Nb|-","Pcc-Nb|+"],"paddingInner":0.3,"paddingOuter":0.15},"axis":null},"y":{"field":"y","type":"quantitative","scale":{"domain":[0,15000],"nice":false},"axis":null}}},
{"data":{"name":"brackets"},"transform":[{"filter":"datum.panel==='Biii'"}],"mark":{"type":"line","color":"#888","strokeWidth":1},
"encoding":{"x":{"field":"bar","type":"nominal","scale":{"type":"band","domain":["Pcc|-","Pcc|+","Nb|-","Nb|+","Pcc-Nb|-","Pcc-Nb|+"],"paddingInner":0.3,"paddingOuter":0.15},"axis":null},"y":{"field":"y","type":"quantitative","scale":{"domain":[0,15000],"nice":false},"axis":null},"order":{"field":"k","type":"quantitative"}}},
{"data":{"name":"bstars"},"transform":[{"filter":"datum.panel==='Biii'"}],"mark":{"type":"text","text":"*","fontSize":11,"dy":6,"baseline":"alphabetic","color":"#222"},
"encoding":{"x":{"field":"bar","type":"nominal","scale":{"type":"band","domain":["Pcc|-","Pcc|+","Nb|-","Nb|+","Pcc-Nb|-","Pcc-Nb|+"],"paddingInner":0.3,"paddingOuter":0.15},"axis":null},"y":{"field":"y","type":"quantitative","scale":{"domain":[0,15000],"nice":false},"axis":null}}},
{"data":{"name":"groups"},"mark":{"type":"point","opacity":0},"encoding":{"x":{"field":"group","type":"nominal","scale":{"type":"point","padding":0.5,"domain":["Pcc","Nb","Pcc-Nb"]},"axis":{"orient":"bottom","offset":11.5,"domain":false,"ticks":false,"labelPadding":0,"labelAngle":0,"labelExpr":"'━━━━━━━━━━━'","labelFont":"DejaVu Sans","labelFontSize":5,"labelColor":"#888","title":"iii)","titleFontSize":15,"titleFontWeight":"normal","titleAlign":"left","titleBaseline":"alphabetic","titleAngle":0,"titleX":-45,"titleY":-115.5}},"y":{"datum":0,"type":"quantitative","scale":{"domain":[0,1]},"axis":null}}},
{"data":{"name":"groups"},"mark":{"type":"point","opacity":0},"encoding":{"x":{"field":"group","type":"nominal","scale":{"type":"point","padding":0.5,"domain":["Pcc","Nb","Pcc-Nb"]},"axis":{"orient":"bottom","offset":17,"domain":false,"ticks":false,"labelPadding":0,"labelAngle":0,"labelFontStyle":"italic","labelFontSize":8,"labelColor":"#222","title":"Infection","titleFontSize":6.5,"titleFontWeight":"normal","titleAlign":"left","titleBaseline":"middle","titleX":-23,"titleY":3.5}},"y":{"datum":0,"type":"quantitative","scale":{"domain":[0,1]},"axis":null}}},
{"data":{"name":"groups"},"mark":{"type":"point","opacity":0},"encoding":{"x":{"field":"group","type":"nominal","scale":{"type":"point","padding":0.5,"domain":["Pcc","Nb","Pcc-Nb"]},"axis":{"orient":"bottom","offset":31,"values":["Pcc"],"domain":false,"ticks":false,"labelPadding":0,"labelAngle":0,"labelExpr":"'X₈'","labelFontSize":12,"labelColor":"#222","title":null}},"y":{"datum":0,"type":"quantitative","scale":{"domain":[0,1]},"axis":null}}},
{"data":{"name":"groups"},"mark":{"type":"point","opacity":0},"encoding":{"x":{"field":"group","type":"nominal","scale":{"type":"point","padding":0.5,"domain":["Pcc","Nb","Pcc-Nb"]},"axis":{"orient":"top","domain":false,"ticks":false,"labels":false,"title":"NbA IgG2a","titleFontSize":9.5,"titleFontWeight":"normal","titleAlign":"center","titleBaseline":"alphabetic","titleX":64,"titleY":-11}},"y":{"datum":0,"type":"quantitative","scale":{"domain":[0,1]},"axis":null}}}
]},
{"width":140,"height":98,"resolve":{"scale":{"x":"independent","y":"independent"},"axis":{"x":"independent","y":"independent"}},
"layer":[
{"data":{"name":"bars"},"transform":[{"filter":"datum.panel==='Ci' && datum.group!=='Pcc-Nb'"}],"mark":{"type":"bar","stroke":"#000","strokeWidth":1.2},
"encoding":{"x":{"field":"bar","type":"nominal","scale":{"type":"band","domain":["Pcc|-","Pcc|+","Nb|-","Nb|+","Pcc-Nb|-","Pcc-Nb|+"],"paddingInner":0.3,"paddingOuter":0.15},"axis":{"orient":"bottom","domainWidth":1.2,"ticks":false,"labelAngle":0,"labelFontSize":8,"labelPadding":3,"labelExpr":"split(datum.value,'|')[1]","title":"Periodate","titleFontSize":6.5,"titleFontWeight":"normal","titleAlign":"left","titleBaseline":"middle","titleX":-38,"titleY":9}},
"y":{"field":"value","type":"quantitative","scale":{"domain":[0,25000],"nice":false},"axis":{"orient":"left","values":[0,5000,10000,15000,20000,25000],"format":"d","labelFontSize":7,"tickSize":3,"domainWidth":1.2,"labelPadding":1,"title":"Titre","titleFontSize":7.5,"titleFontWeight":"normal","titlePadding":5}},
"fill":{"condition":{"test":"datum.group==='Pcc'","value":"#000"},"value":"#fff"}}},
{"data":{"name":"bars"},"transform":[{"filter":"datum.panel==='Ci' && datum.group==='Pcc-Nb'"}],"mark":{"type":"bar","stroke":"#000","strokeWidth":1.2,"fill":{"gradient":"linear","x1":0,"y1":0,"x2":1,"y2":0,"stops":[{"offset":0,"color":"#000"},{"offset":0.1667,"color":"#000"},{"offset":0.1667,"color":"#fff"},{"offset":0.3333,"color":"#fff"},{"offset":0.3333,"color":"#000"},{"offset":0.5,"color":"#000"},{"offset":0.5,"color":"#fff"},{"offset":0.6667,"color":"#fff"},{"offset":0.6667,"color":"#000"},{"offset":0.8333,"color":"#000"},{"offset":0.8333,"color":"#fff"},{"offset":1,"color":"#fff"}]}},
"encoding":{"x":{"field":"bar","type":"nominal","scale":{"type":"band","domain":["Pcc|-","Pcc|+","Nb|-","Nb|+","Pcc-Nb|-","Pcc-Nb|+"],"paddingInner":0.3,"paddingOuter":0.15},"axis":null},"y":{"field":"value","type":"quantitative","scale":{"domain":[0,25000],"nice":false},"axis":null}}},
{"data":{"name":"bars"},"transform":[{"filter":"datum.panel==='Ci' && datum.group==='Pcc-Nb'"}],"mark":{"type":"rule","color":"#fff","strokeWidth":13.5,"strokeDash":[2.7,2.7],"blend":"difference"},
"encoding":{"x":{"field":"bar","type":"nominal","scale":{"type":"band","domain":["Pcc|-","Pcc|+","Nb|-","Nb|+","Pcc-Nb|-","Pcc-Nb|+"],"paddingInner":0.3,"paddingOuter":0.15},"axis":null},"y":{"field":"value","type":"quantitative","scale":{"domain":[0,25000],"nice":false},"axis":null},"y2":{"datum":0}}},
{"data":{"name":"bars"},"transform":[{"filter":"datum.panel==='Ci' && datum.err!=null"}],"mark":{"type":"rule","color":"#333","strokeWidth":1.2},
"encoding":{"x":{"field":"bar","type":"nominal","scale":{"type":"band","domain":["Pcc|-","Pcc|+","Nb|-","Nb|+","Pcc-Nb|-","Pcc-Nb|+"],"paddingInner":0.3,"paddingOuter":0.15},"axis":null},"y":{"field":"value","type":"quantitative","scale":{"domain":[0,25000],"nice":false},"axis":null},"y2":{"field":"err"}}},
{"data":{"name":"bars"},"transform":[{"filter":"datum.panel==='Ci' && datum.err!=null"}],"mark":{"type":"tick","color":"#333","thickness":1.2,"size":10},
"encoding":{"x":{"field":"bar","type":"nominal","scale":{"type":"band","domain":["Pcc|-","Pcc|+","Nb|-","Nb|+","Pcc-Nb|-","Pcc-Nb|+"],"paddingInner":0.3,"paddingOuter":0.15},"axis":null},"y":{"field":"err","type":"quantitative","scale":{"domain":[0,25000],"nice":false},"axis":null}}},
{"data":{"name":"stars"},"transform":[{"filter":"datum.panel==='Ci'"}],"mark":{"type":"text","text":"*","fontSize":11,"dx":-16,"dy":6,"baseline":"alphabetic","color":"#222"},
"encoding":{"x":{"field":"bar","type":"nominal","scale":{"type":"band","domain":["Pcc|-","Pcc|+","Nb|-","Nb|+","Pcc-Nb|-","Pcc-Nb|+"],"paddingInner":0.3,"paddingOuter":0.15},"axis":null},"y":{"field":"y","type":"quantitative","scale":{"domain":[0,25000],"nice":false},"axis":null}}},
{"data":{"name":"groups"},"mark":{"type":"point","opacity":0},"encoding":{"x":{"field":"group","type":"nominal","scale":{"type":"point","padding":0.5,"domain":["Pcc","Nb","Pcc-Nb"]},"axis":{"orient":"bottom","offset":11.5,"domain":false,"ticks":false,"labelPadding":0,"labelAngle":0,"labelExpr":"'━━━━━━━━━━━'","labelFont":"DejaVu Sans","labelFontSize":5,"labelColor":"#888","title":"i)","titleFontSize":15,"titleFontWeight":"normal","titleAlign":"left","titleBaseline":"alphabetic","titleAngle":0,"titleX":-15,"titleY":-122.5}},"y":{"datum":0,"type":"quantitative","scale":{"domain":[0,1]},"axis":null}}},
{"data":{"name":"groups"},"mark":{"type":"point","opacity":0},"encoding":{"x":{"field":"group","type":"nominal","scale":{"type":"point","padding":0.5,"domain":["Pcc","Nb","Pcc-Nb"]},"axis":{"orient":"bottom","offset":17,"domain":false,"ticks":false,"labelPadding":0,"labelAngle":0,"labelFontStyle":"italic","labelFontSize":8,"labelColor":"#222","title":"Infection","titleFontSize":6.5,"titleFontWeight":"normal","titleAlign":"left","titleBaseline":"middle","titleX":-38,"titleY":3.5}},"y":{"datum":0,"type":"quantitative","scale":{"domain":[0,1]},"axis":null}}},
{"data":{"name":"groups"},"mark":{"type":"point","opacity":0},"encoding":{"x":{"field":"group","type":"nominal","scale":{"type":"point","padding":0.5,"domain":["Pcc","Nb","Pcc-Nb"]},"axis":{"orient":"top","domain":false,"ticks":false,"labels":false,"title":"MSP-1₁₉ IgG3","titleFontSize":9.5,"titleFontWeight":"normal","titleAlign":"center","titleBaseline":"alphabetic","titleX":52,"titleY":-11}},"y":{"datum":0,"type":"quantitative","scale":{"domain":[0,1]},"axis":null}}},
{"data":{"name":"groups"},"mark":{"type":"point","opacity":0},"encoding":{"x":{"field":"group","type":"nominal","scale":{"type":"point","padding":0.5,"domain":["Pcc","Nb","Pcc-Nb"]},"axis":null},"y":{"datum":0,"type":"quantitative","scale":{"domain":[0,25000],"nice":false},"axis":{"orient":"left","values":[0],"domain":false,"ticks":false,"tickSize":0,"labelAlign":"left","labelPadding":50,"labelFontSize":10,"labelBaseline":"middle","labelOffset":-11,"labelLineHeight":10.5,"labelExpr":"['naïve','± 3 s.d =']","labelColor":"#222","title":"C","titleFontSize":15,"titleFontWeight":"normal","titleAngle":0,"titleAlign":"left","titleBaseline":"alphabetic","titleX":-38,"titleY":-22}}}}
]},
{"width":140,"height":98,"resolve":{"scale":{"x":"independent","y":"independent"},"axis":{"x":"independent","y":"independent"}},
"layer":[
{"data":{"name":"bars"},"transform":[{"filter":"datum.panel==='Cii' && datum.group!=='Pcc-Nb'"}],"mark":{"type":"bar","stroke":"#000","strokeWidth":1.2},
"encoding":{"x":{"field":"bar","type":"nominal","scale":{"type":"band","domain":["Pcc|-","Pcc|+","Nb|-","Nb|+","Pcc-Nb|-","Pcc-Nb|+"],"paddingInner":0.3,"paddingOuter":0.15},"axis":{"orient":"bottom","domainWidth":1.2,"ticks":false,"labelAngle":0,"labelFontSize":8,"labelPadding":3,"labelExpr":"split(datum.value,'|')[1]","title":"Periodate","titleFontSize":6.5,"titleFontWeight":"normal","titleAlign":"left","titleBaseline":"middle","titleX":-31,"titleY":9}},
"y":{"field":"value","type":"quantitative","scale":{"domain":[0,120000],"nice":false},"axis":{"orient":"left","values":[0,40000,80000,120000],"format":"d","labelFontSize":7,"tickSize":3,"domainWidth":1.2,"labelPadding":1,"title":"Titre","titleFontSize":7.5,"titleFontWeight":"normal","titlePadding":5}},
"fill":{"condition":{"test":"datum.group==='Pcc'","value":"#000"},"value":"#fff"}}},
{"data":{"name":"bars"},"transform":[{"filter":"datum.panel==='Cii' && datum.group==='Pcc-Nb'"}],"mark":{"type":"bar","stroke":"#000","strokeWidth":1.2,"fill":{"gradient":"linear","x1":0,"y1":0,"x2":1,"y2":0,"stops":[{"offset":0,"color":"#000"},{"offset":0.1667,"color":"#000"},{"offset":0.1667,"color":"#fff"},{"offset":0.3333,"color":"#fff"},{"offset":0.3333,"color":"#000"},{"offset":0.5,"color":"#000"},{"offset":0.5,"color":"#fff"},{"offset":0.6667,"color":"#fff"},{"offset":0.6667,"color":"#000"},{"offset":0.8333,"color":"#000"},{"offset":0.8333,"color":"#fff"},{"offset":1,"color":"#fff"}]}},
"encoding":{"x":{"field":"bar","type":"nominal","scale":{"type":"band","domain":["Pcc|-","Pcc|+","Nb|-","Nb|+","Pcc-Nb|-","Pcc-Nb|+"],"paddingInner":0.3,"paddingOuter":0.15},"axis":null},"y":{"field":"value","type":"quantitative","scale":{"domain":[0,120000],"nice":false},"axis":null}}},
{"data":{"name":"bars"},"transform":[{"filter":"datum.panel==='Cii' && datum.group==='Pcc-Nb'"}],"mark":{"type":"rule","color":"#fff","strokeWidth":13.5,"strokeDash":[2.7,2.7],"blend":"difference"},
"encoding":{"x":{"field":"bar","type":"nominal","scale":{"type":"band","domain":["Pcc|-","Pcc|+","Nb|-","Nb|+","Pcc-Nb|-","Pcc-Nb|+"],"paddingInner":0.3,"paddingOuter":0.15},"axis":null},"y":{"field":"value","type":"quantitative","scale":{"domain":[0,120000],"nice":false},"axis":null},"y2":{"datum":0}}},
{"data":{"name":"bars"},"transform":[{"filter":"datum.panel==='Cii' && datum.err!=null"}],"mark":{"type":"rule","color":"#333","strokeWidth":1.2},
"encoding":{"x":{"field":"bar","type":"nominal","scale":{"type":"band","domain":["Pcc|-","Pcc|+","Nb|-","Nb|+","Pcc-Nb|-","Pcc-Nb|+"],"paddingInner":0.3,"paddingOuter":0.15},"axis":null},"y":{"field":"value","type":"quantitative","scale":{"domain":[0,120000],"nice":false},"axis":null},"y2":{"field":"err"}}},
{"data":{"name":"bars"},"transform":[{"filter":"datum.panel==='Cii' && datum.err!=null"}],"mark":{"type":"tick","color":"#333","thickness":1.2,"size":10},
"encoding":{"x":{"field":"bar","type":"nominal","scale":{"type":"band","domain":["Pcc|-","Pcc|+","Nb|-","Nb|+","Pcc-Nb|-","Pcc-Nb|+"],"paddingInner":0.3,"paddingOuter":0.15},"axis":null},"y":{"field":"err","type":"quantitative","scale":{"domain":[0,120000],"nice":false},"axis":null}}},
{"data":{"name":"stars"},"transform":[{"filter":"datum.panel==='Cii'"}],"mark":{"type":"text","text":"*","fontSize":11,"dx":-10,"dy":6,"baseline":"alphabetic","color":"#222"},
"encoding":{"x":{"field":"bar","type":"nominal","scale":{"type":"band","domain":["Pcc|-","Pcc|+","Nb|-","Nb|+","Pcc-Nb|-","Pcc-Nb|+"],"paddingInner":0.3,"paddingOuter":0.15},"axis":null},"y":{"field":"y","type":"quantitative","scale":{"domain":[0,120000],"nice":false},"axis":null}}},
{"data":{"name":"groups"},"mark":{"type":"point","opacity":0},"encoding":{"x":{"field":"group","type":"nominal","scale":{"type":"point","padding":0.5,"domain":["Pcc","Nb","Pcc-Nb"]},"axis":{"orient":"bottom","offset":11.5,"domain":false,"ticks":false,"labelPadding":0,"labelAngle":0,"labelExpr":"'━━━━━━━━━━━'","labelFont":"DejaVu Sans","labelFontSize":5,"labelColor":"#888","title":"ii)","titleFontSize":15,"titleFontWeight":"normal","titleAlign":"left","titleBaseline":"alphabetic","titleAngle":0,"titleX":-43,"titleY":-122.5}},"y":{"datum":0,"type":"quantitative","scale":{"domain":[0,1]},"axis":null}}},
{"data":{"name":"groups"},"mark":{"type":"point","opacity":0},"encoding":{"x":{"field":"group","type":"nominal","scale":{"type":"point","padding":0.5,"domain":["Pcc","Nb","Pcc-Nb"]},"axis":{"orient":"bottom","offset":17,"domain":false,"ticks":false,"labelPadding":0,"labelAngle":0,"labelFontStyle":"italic","labelFontSize":8,"labelColor":"#222","title":"Infection","titleFontSize":6.5,"titleFontWeight":"normal","titleAlign":"left","titleBaseline":"middle","titleX":-31,"titleY":3.5}},"y":{"datum":0,"type":"quantitative","scale":{"domain":[0,1]},"axis":null}}},
{"data":{"name":"groups"},"mark":{"type":"point","opacity":0},"encoding":{"x":{"field":"group","type":"nominal","scale":{"type":"point","padding":0.5,"domain":["Pcc","Nb","Pcc-Nb"]},"axis":{"orient":"top","domain":false,"ticks":false,"labels":false,"title":"pRBC IgG3","titleFontSize":9.5,"titleFontWeight":"normal","titleAlign":"center","titleBaseline":"alphabetic","titleX":53,"titleY":-11}},"y":{"datum":0,"type":"quantitative","scale":{"domain":[0,1]},"axis":null}}}
]},
{"width":140,"height":98,"resolve":{"scale":{"x":"independent","y":"independent"},"axis":{"x":"independent","y":"independent"}},
"layer":[
{"data":{"name":"bars"},"transform":[{"filter":"datum.panel==='Ciii' && datum.group!=='Pcc-Nb'"}],"mark":{"type":"bar","stroke":"#000","strokeWidth":1.2},
"encoding":{"x":{"field":"bar","type":"nominal","scale":{"type":"band","domain":["Pcc|-","Pcc|+","Nb|-","Nb|+","Pcc-Nb|-","Pcc-Nb|+"],"paddingInner":0.3,"paddingOuter":0.15},"axis":{"orient":"bottom","domainWidth":1.2,"ticks":false,"labelAngle":0,"labelFontSize":8,"labelPadding":3,"labelExpr":"split(datum.value,'|')[1]","title":"Periodate","titleFontSize":6.5,"titleFontWeight":"normal","titleAlign":"left","titleBaseline":"middle","titleX":-23,"titleY":9}},
"y":{"field":"value","type":"quantitative","scale":{"domain":[0,4500],"nice":false},"axis":{"orient":"left","values":[0,500,1000,1500,2000,2500,3000,3500,4000,4500],"format":"d","labelFontSize":7,"tickSize":3,"domainWidth":1.2,"labelPadding":1,"title":"Titre","titleFontSize":7.5,"titleFontWeight":"normal","titlePadding":5}},
"fill":{"condition":{"test":"datum.group==='Pcc'","value":"#000"},"value":"#fff"}}},
{"data":{"name":"bars"},"transform":[{"filter":"datum.panel==='Ciii' && datum.group==='Pcc-Nb'"}],"mark":{"type":"bar","stroke":"#000","strokeWidth":1.2,"fill":{"gradient":"linear","x1":0,"y1":0,"x2":1,"y2":0,"stops":[{"offset":0,"color":"#000"},{"offset":0.1667,"color":"#000"},{"offset":0.1667,"color":"#fff"},{"offset":0.3333,"color":"#fff"},{"offset":0.3333,"color":"#000"},{"offset":0.5,"color":"#000"},{"offset":0.5,"color":"#fff"},{"offset":0.6667,"color":"#fff"},{"offset":0.6667,"color":"#000"},{"offset":0.8333,"color":"#000"},{"offset":0.8333,"color":"#fff"},{"offset":1,"color":"#fff"}]}},
"encoding":{"x":{"field":"bar","type":"nominal","scale":{"type":"band","domain":["Pcc|-","Pcc|+","Nb|-","Nb|+","Pcc-Nb|-","Pcc-Nb|+"],"paddingInner":0.3,"paddingOuter":0.15},"axis":null},"y":{"field":"value","type":"quantitative","scale":{"domain":[0,4500],"nice":false},"axis":null}}},
{"data":{"name":"bars"},"transform":[{"filter":"datum.panel==='Ciii' && datum.group==='Pcc-Nb'"}],"mark":{"type":"rule","color":"#fff","strokeWidth":13.5,"strokeDash":[2.7,2.7],"blend":"difference"},
"encoding":{"x":{"field":"bar","type":"nominal","scale":{"type":"band","domain":["Pcc|-","Pcc|+","Nb|-","Nb|+","Pcc-Nb|-","Pcc-Nb|+"],"paddingInner":0.3,"paddingOuter":0.15},"axis":null},"y":{"field":"value","type":"quantitative","scale":{"domain":[0,4500],"nice":false},"axis":null},"y2":{"datum":0}}},
{"data":{"name":"bars"},"transform":[{"filter":"datum.panel==='Ciii' && datum.err!=null"}],"mark":{"type":"rule","color":"#333","strokeWidth":1.2},
"encoding":{"x":{"field":"bar","type":"nominal","scale":{"type":"band","domain":["Pcc|-","Pcc|+","Nb|-","Nb|+","Pcc-Nb|-","Pcc-Nb|+"],"paddingInner":0.3,"paddingOuter":0.15},"axis":null},"y":{"field":"value","type":"quantitative","scale":{"domain":[0,4500],"nice":false},"axis":null},"y2":{"field":"err"}}},
{"data":{"name":"bars"},"transform":[{"filter":"datum.panel==='Ciii' && datum.err!=null"}],"mark":{"type":"tick","color":"#333","thickness":1.2,"size":10},
"encoding":{"x":{"field":"bar","type":"nominal","scale":{"type":"band","domain":["Pcc|-","Pcc|+","Nb|-","Nb|+","Pcc-Nb|-","Pcc-Nb|+"],"paddingInner":0.3,"paddingOuter":0.15},"axis":null},"y":{"field":"err","type":"quantitative","scale":{"domain":[0,4500],"nice":false},"axis":null}}},
{"data":{"name":"groups"},"mark":{"type":"point","opacity":0},"encoding":{"x":{"field":"group","type":"nominal","scale":{"type":"point","padding":0.5,"domain":["Pcc","Nb","Pcc-Nb"]},"axis":{"orient":"bottom","offset":11.5,"domain":false,"ticks":false,"labelPadding":0,"labelAngle":0,"labelExpr":"'━━━━━━━━━━━'","labelFont":"DejaVu Sans","labelFontSize":5,"labelColor":"#888","title":"iii)","titleFontSize":15,"titleFontWeight":"normal","titleAlign":"left","titleBaseline":"alphabetic","titleAngle":0,"titleX":-45,"titleY":-122.5}},"y":{"datum":0,"type":"quantitative","scale":{"domain":[0,1]},"axis":null}}},
{"data":{"name":"groups"},"mark":{"type":"point","opacity":0},"encoding":{"x":{"field":"group","type":"nominal","scale":{"type":"point","padding":0.5,"domain":["Pcc","Nb","Pcc-Nb"]},"axis":{"orient":"bottom","offset":17,"domain":false,"ticks":false,"labelPadding":0,"labelAngle":0,"labelFontStyle":"italic","labelFontSize":8,"labelColor":"#222","title":"Infection","titleFontSize":6.5,"titleFontWeight":"normal","titleAlign":"left","titleBaseline":"middle","titleX":-23,"titleY":3.5}},"y":{"datum":0,"type":"quantitative","scale":{"domain":[0,1]},"axis":null}}},
{"data":{"name":"groups"},"mark":{"type":"point","opacity":0},"encoding":{"x":{"field":"group","type":"nominal","scale":{"type":"point","padding":0.5,"domain":["Pcc","Nb","Pcc-Nb"]},"axis":{"orient":"top","domain":false,"ticks":false,"labels":false,"title":"NbA IgG3","titleFontSize":9.5,"titleFontWeight":"normal","titleAlign":"center","titleBaseline":"alphabetic","titleX":62,"titleY":-11}},"y":{"datum":0,"type":"quantitative","scale":{"domain":[0,1]},"axis":null}}}
]}
]
}
